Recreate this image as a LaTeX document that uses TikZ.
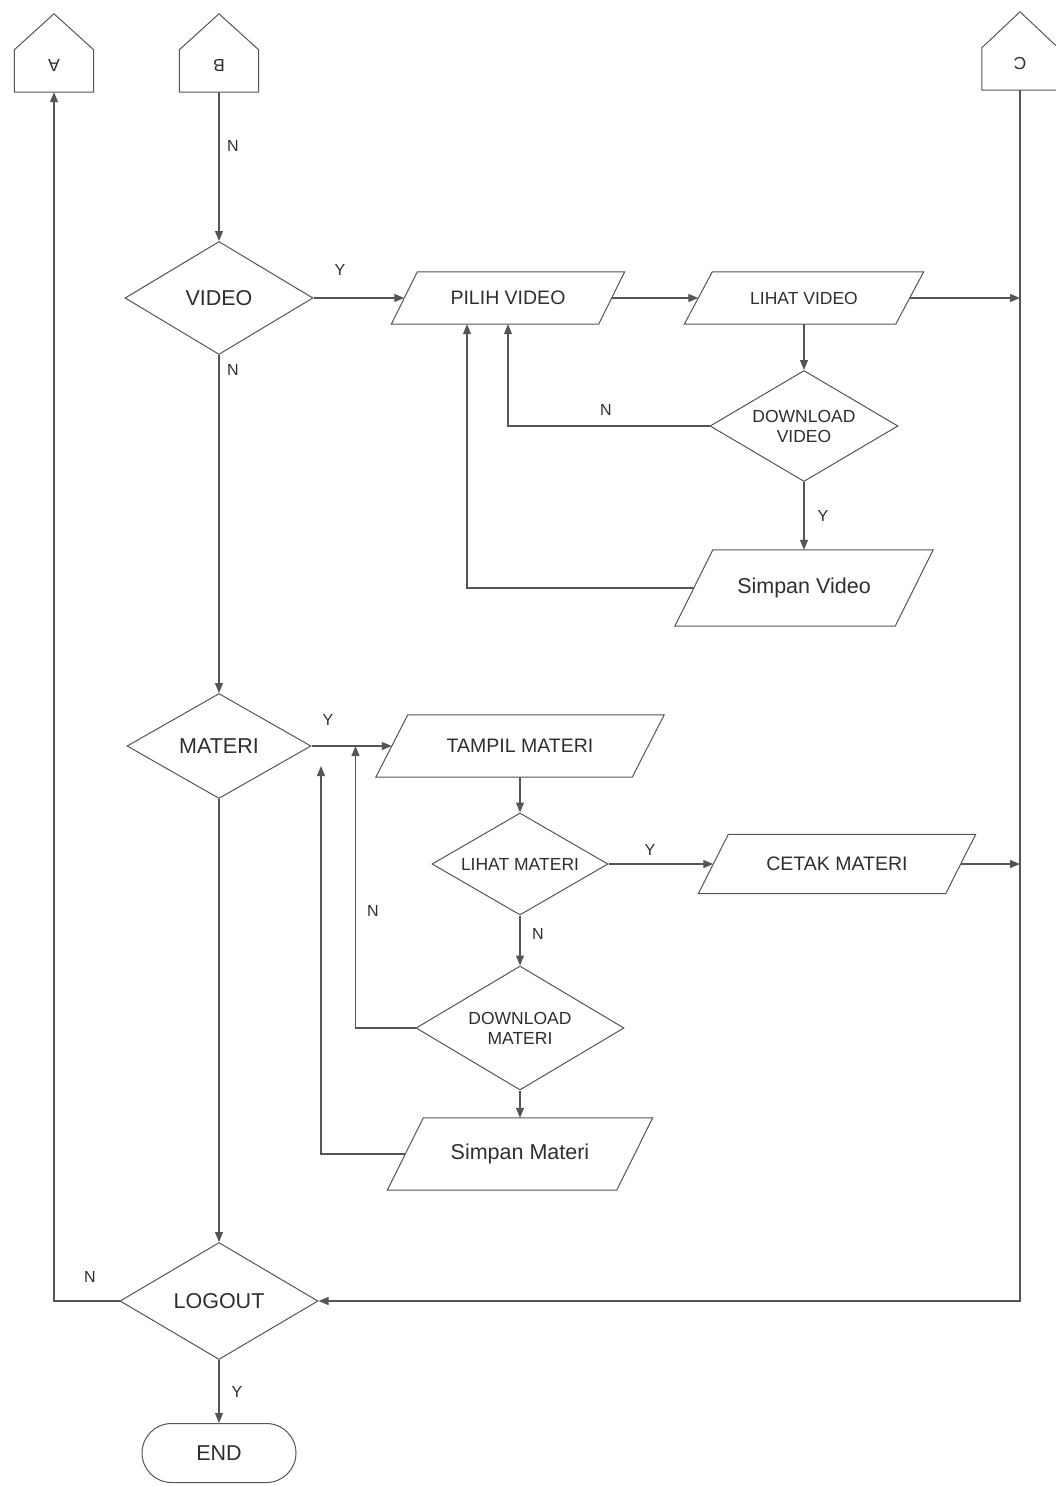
\documentclass[tikz,border=0pt]{standalone}
\usepackage{fontspec}
\setmainfont{Liberation Sans}
\usetikzlibrary{shapes.geometric,shapes.misc,arrows.meta}
\definecolor{ink}{HTML}{555555}
\definecolor{txt}{HTML}{2E2E2E}
% slanted input/output frame around a rectangular node: #1 node, #2 half slant offset
\newcommand\ioframe[2]{\draw[outline] ([xshift=-#2pt]#1.south west) -- ([xshift=#2pt]#1.north west) -- ([xshift=#2pt]#1.north east) -- ([xshift=-#2pt]#1.south east) -- cycle;}
% off-page connector (house shape) around a rectangular node
\newcommand\houseframe[1]{\draw[outline] (#1.south west) -- ([yshift=-10pt]#1.north west) -- ([yshift=26pt]#1.north) -- ([yshift=-10pt]#1.north east) -- (#1.south east) -- cycle;}
\begin{document}
\begin{tikzpicture}[x=1pt,y=-1pt,
  outline/.style={draw=ink, line width=1pt},
  flow/.style={draw=ink, line width=1.1pt},
  arr/.style={flow, -{Triangle[length=10pt,width=8pt]}},
  big/.style={font=\fontsize{21.5}{24}\selectfont},
  mid/.style={font=\fontsize{19.5}{22}\selectfont},
  small/.style={font=\fontsize{17.5}{20}\selectfont},
  decision/.style={diamond, outline, text=txt, inner sep=0pt, aspect=1.7, align=center},
  io/.style={rectangle, inner sep=0pt, text=txt},
  conn/.style={rectangle, inner sep=0pt, minimum width=79pt, minimum height=52pt, text=txt, font=\fontsize{17.5}{20}\selectfont},
  lbl/.style={text=txt, font=\fontsize{16}{18}\selectfont, inner sep=0pt},
]
\useasboundingbox (0,0) rectangle (1056,1486);

% off-page connectors
\node[conn] (A) at (54,66) {\rotatebox{180}{A}};
\node[conn] (B) at (219,66) {\rotatebox{180}{B}};
\node[conn, minimum width=76pt] (C) at (1020,64) {\rotatebox{180}{C}};
\houseframe{A}
\houseframe{B}
\houseframe{C}

% decisions
\node[decision, big, minimum width=188pt, minimum height=113pt] (VIDEO) at (219,298) {VIDEO};
\node[decision, big, minimum width=184pt, minimum height=105pt] (MATERI) at (219,746) {MATERI};
\node[decision, big, minimum width=198pt, minimum height=117pt] (LOGOUT) at (219,1301) {LOGOUT};
\node[decision, small, minimum width=188pt, minimum height=111pt] (DV) at (804,426) {DOWNLOAD\\VIDEO};
\node[decision, small, minimum width=176pt, minimum height=102pt] (LM) at (520,864) {LIHAT MATERI};
\node[decision, small, minimum width=208pt, minimum height=124pt] (DM) at (520,1028) {DOWNLOAD\\MATERI};

% input / output
\node[io, mid, minimum width=207pt, minimum height=52pt] (PV) at (508,298) {PILIH VIDEO};
\ioframe{PV}{13}
\node[io, small, minimum width=211pt, minimum height=52pt] (LV) at (804,298) {LIHAT VIDEO};
\ioframe{LV}{14}
\node[io, big, minimum width=220pt, minimum height=76pt] (SV) at (804,588) {Simpan Video};
\ioframe{SV}{19}
\node[io, mid, minimum width=256pt, minimum height=62pt] (TM) at (520,746) {TAMPIL MATERI};
\ioframe{TM}{16}
\node[io, mid, minimum width=247pt, minimum height=59pt] (CM) at (837,864) {CETAK MATERI};
\ioframe{CM}{15}
\node[io, big, minimum width=229pt, minimum height=72pt] (SM) at (520,1154) {Simpan Materi};
\ioframe{SM}{18}

% terminator
\node[rounded rectangle, outline, big, text=txt, minimum width=154pt, minimum height=59pt, inner sep=0pt] (END) at (219,1453) {END};

% free end of the return line from Simpan Materi
\coordinate (matret) at (321,766);

% video branch
\draw[arr] (B.south) -- (VIDEO.north);
\draw[arr] (VIDEO.east) -- (PV.west);
\draw[arr] (PV.east) -- (LV.west);
\draw[arr] (LV.east) -- (LV.east -| C.south);
\draw[arr] (LV.south) -- (DV.north);
\draw[arr] (DV.west) -| (PV.south);
\draw[arr] (DV.south) -- (SV.north);
\draw[arr] (SV.west) -| ([xshift=-41pt]PV.south);
\draw[arr] (VIDEO.south) -- (MATERI.north);

% materi branch
\draw[arr] (MATERI.east) -- (TM.west);
\draw[arr] (TM.south) -- (LM.north);
\draw[arr] (LM.east) -- (CM.west);
\draw[arr] (CM.east) -- (CM.east -| C.south);
\draw[arr] (LM.south) -- (DM.north);
\draw[arr] (DM.south) -- (SM.north);
\draw[arr] (DM.west) -| ([xshift=44pt]MATERI.east);
\draw[arr] (SM.west) -| (matret);
\draw[arr] (MATERI.south) -- (LOGOUT.north);

% logout
\draw[arr] (C.south) |- (LOGOUT.east);
\draw[arr] (LOGOUT.west) -| (A.south);
\draw[arr] (LOGOUT.south) -- (END.north);

% branch labels
\node[lbl] at (233,146) {N};
\node[lbl] at (340,270) {Y};
\node[lbl] at (233,370) {N};
\node[lbl] at (606,410) {N};
\node[lbl] at (823,516) {Y};
\node[lbl] at (328,720) {Y};
\node[lbl] at (373,911) {N};
\node[lbl] at (650,850) {Y};
\node[lbl] at (538,934) {N};
\node[lbl] at (90,1277) {N};
\node[lbl] at (237,1392) {Y};
\end{tikzpicture}
\end{document}
